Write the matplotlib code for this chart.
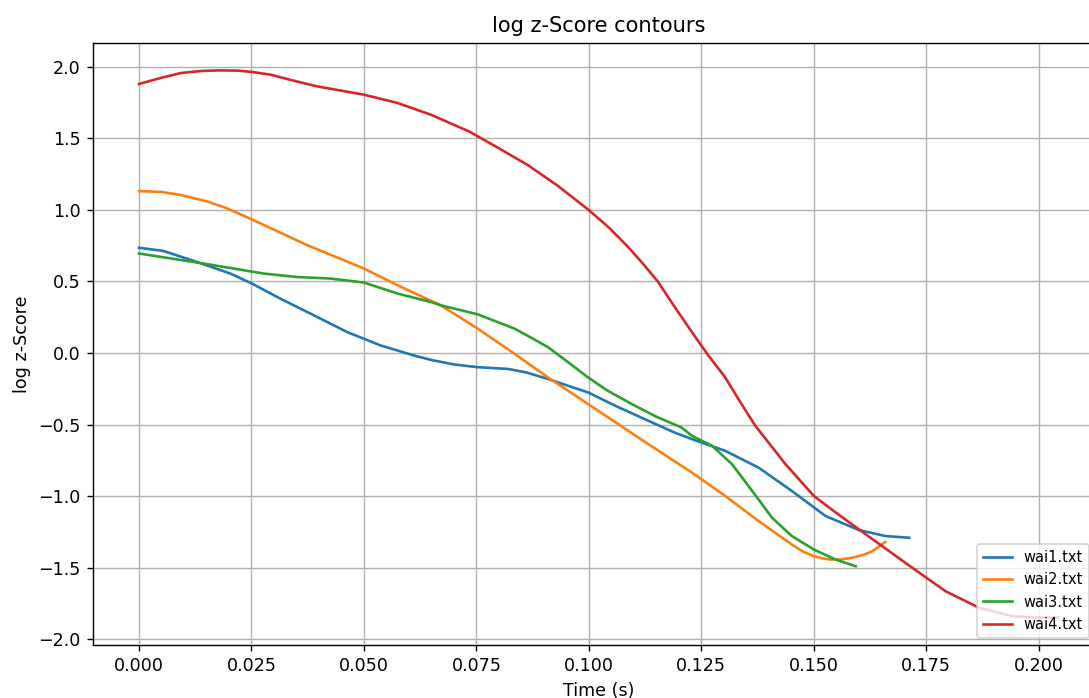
import matplotlib
matplotlib.use("Agg")
import matplotlib.pyplot as plt

labels = ["wai1.txt", "wai2.txt", "wai3.txt", "wai4.txt"]

t1 = [0.0, 0.0054, 0.0129, 0.0203, 0.0251, 0.0314, 0.0389, 0.0463, 0.0537, 0.0612,
      0.0649, 0.070, 0.0753, 0.082, 0.086, 0.0909, 0.095, 0.0998, 0.106, 0.1132,
      0.119, 0.1229, 0.1303, 0.1377, 0.1451, 0.1526, 0.160, 0.1659, 0.1712]
y1 = [0.735, 0.713, 0.636, 0.555, 0.485, 0.38, 0.263, 0.146, 0.053, -0.018,
      -0.048, -0.080, -0.099, -0.111, -0.135, -0.181, -0.225, -0.275, -0.37, -0.473,
      -0.555, -0.601, -0.683, -0.80, -0.963, -1.138, -1.236, -1.278, -1.29]

t2 = [0.0, 0.005, 0.0094, 0.015, 0.0196, 0.0251, 0.0374, 0.050, 0.0575, 0.0671, 0.0753,
      0.0835, 0.0909, 0.0998, 0.1132, 0.1229, 0.1303, 0.1377, 0.1451, 0.1475, 0.150,
      0.152, 0.1539, 0.156, 0.1585, 0.161, 0.1630, 0.1659]
y2 = [1.131, 1.125, 1.103, 1.06, 1.010, 0.933, 0.753, 0.590, 0.473, 0.333, 0.17,
      -0.006, -0.170, -0.356, -0.636, -0.835, -0.998, -1.173, -1.337, -1.385, -1.419,
      -1.435, -1.442, -1.442, -1.43, -1.41, -1.384, -1.32]

t3 = [0.0, 0.0129, 0.0203, 0.0277, 0.0351, 0.0426, 0.050, 0.0575, 0.0649, 0.0671,
      0.0753, 0.079, 0.0835, 0.087, 0.0909, 0.095, 0.0998, 0.104, 0.1095, 0.115,
      0.1206, 0.1229, 0.1274, 0.1318, 0.1363, 0.1407, 0.1451, 0.150, 0.1548, 0.1593]
y3 = [0.695, 0.632, 0.594, 0.555, 0.531, 0.52, 0.492, 0.415, 0.356, 0.333,
      0.27, 0.225, 0.17, 0.11, 0.041, -0.055, -0.17, -0.26, -0.356, -0.445,
      -0.52, -0.578, -0.648, -0.776, -0.963, -1.15, -1.278, -1.372, -1.442, -1.489]

t4 = [0.0, 0.0047, 0.0094, 0.014, 0.018, 0.022, 0.0251, 0.0292, 0.034, 0.0396,
      0.045, 0.050, 0.0575, 0.0649, 0.0734, 0.080, 0.0864, 0.093, 0.100, 0.1045,
      0.1087, 0.112, 0.1154, 0.119, 0.1229, 0.1265, 0.1303, 0.1335, 0.137, 0.1437,
      0.150, 0.1545, 0.1585, 0.1652, 0.1719, 0.1793, 0.1868, 0.1942, 0.200, 0.2045]
y4 = [1.879, 1.92, 1.956, 1.97, 1.974, 1.972, 1.963, 1.944, 1.905, 1.862,
      1.832, 1.804, 1.746, 1.664, 1.547, 1.43, 1.313, 1.17, 0.998, 0.875,
      0.741, 0.625, 0.496, 0.325, 0.146, -0.015, -0.17, -0.335, -0.508, -0.776,
      -0.998, -1.105, -1.197, -1.349, -1.50, -1.664, -1.78, -1.839, -1.848, -1.847]

series = [(t1, y1), (t2, y2), (t3, y3), (t4, y4)]

fig = plt.figure(figsize=(1089 / 126, 698 / 126), dpi=126)
ax_w = (1105 - 93) / 1089
ax = fig.add_axes([93 / 1089, 53 / 698, ax_w, (645 - 43) / 698])
for (t, y), lab in zip(series, labels):
    ax.plot(t, y, label=lab, linewidth=1.5)
ax.set_title("log z-Score contours", fontsize=12)
ax.set_xlabel("Time (s)")
ax.set_ylabel("log z-Score")
ax.grid(True)
ax.legend(loc="lower right", fontsize="small",
          bbox_to_anchor=(1 - 9 / 1012, 0))
fig.savefig("out.png", dpi=126)
